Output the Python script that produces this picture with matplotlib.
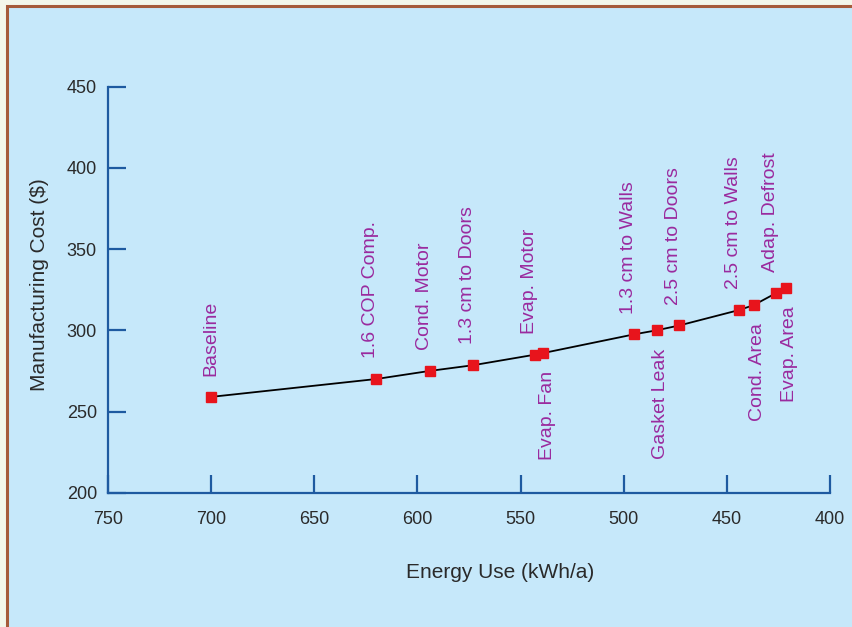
import matplotlib
matplotlib.use("Agg")
import matplotlib.pyplot as plt
from matplotlib.patches import Rectangle

plt.rcParams['font.family'] = ['Liberation Sans', 'DejaVu Sans']

# Data
labels = ["Baseline", "1.6 COP Comp.", "Cond. Motor", "1.3 cm to Doors", "Evap. Motor",
          "Evap. Fan", "1.3 cm to Walls", "Gasket Leak", "2.5 cm to Doors",
          "2.5 cm to Walls", "Cond. Area", "Adap. Defrost", "Evap. Area"]
energy = [700, 620, 594, 573, 543, 539, 495, 484, 473, 444, 437, 426, 421.5]
cost = [259, 270, 275, 278.5, 285, 286, 297.5, 300, 303, 312.5, 315.5, 323, 326]
below = [False, False, False, False, False, True, False, True, False, False, True, False, True]

x_ticks = [750, 700, 650, 600, 550, 500, 450, 400]
y_ticks = [200, 250, 300, 350, 400, 450]

BG = "#C6E8FA"
AXC = "#1E5AA0"
LBL = "#9A2A9E"
TXT = "#2A2A2A"

fig = plt.figure(figsize=(8.52, 6.27), dpi=100)
fig.patch.set_facecolor("#F4F7EA")
# blue panel with brown frame (extends past right/bottom edges)
fig.patches.append(Rectangle((6.5 / 852, -0.05), 1.2, 1 - 5.5 / 627 + 0.05,
                             transform=fig.transFigure, facecolor=BG,
                             edgecolor="#A65B3A", linewidth=2.2, zorder=-10))

ax = fig.add_axes([108 / 852, 1 - 492.7 / 627, 722 / 852, 406 / 627])
ax.set_zorder(5)
ax.set_facecolor("none")
ax.set_xlim(750, 400)
ax.set_ylim(200, 450)
for s in ["top", "right"]:
    ax.spines[s].set_visible(False)
for s in ["left", "bottom"]:
    ax.spines[s].set_color(AXC)
    ax.spines[s].set_linewidth(1.6)
ax.set_xticks(x_ticks)
ax.set_yticks(y_ticks)
ax.tick_params(axis="both", direction="in", length=13, width=1.6, color=AXC,
               labelsize=13, labelcolor=TXT)
ax.tick_params(axis="x", pad=13)
ax.tick_params(axis="y", pad=8)

ax.plot(energy, cost, color="black", lw=1.3, zorder=2, clip_on=False)
ax.plot(energy, cost, ls="none", marker="s", ms=7, color="#E8141C",
        mec="#E8141C", zorder=3, clip_on=False)

for i, (lab, xv, yv, b) in enumerate(zip(labels, energy, cost, below)):
    if b:
        ax.annotate(lab, (xv, yv), xytext=(3, -13), textcoords="offset points",
                    rotation=90, ha="center", va="top", fontsize=14, color=LBL)
    else:
        dx = 0 if i == 0 else -4
        ax.annotate(lab, (xv, yv), xytext=(dx, 15), textcoords="offset points",
                    rotation=90, ha="center", va="bottom", fontsize=14, color=LBL)

fig.text(500 / 852, 1 - 572 / 627, "Energy Use (kWh/a)", ha="center", va="center",
         fontsize=15, color=TXT)
fig.text(40 / 852, 1 - 285 / 627, "Manufacturing Cost ($)", ha="center", va="center",
         rotation=90, fontsize=15, color=TXT)

fig.savefig("out.png", dpi=100, facecolor=fig.get_facecolor())
